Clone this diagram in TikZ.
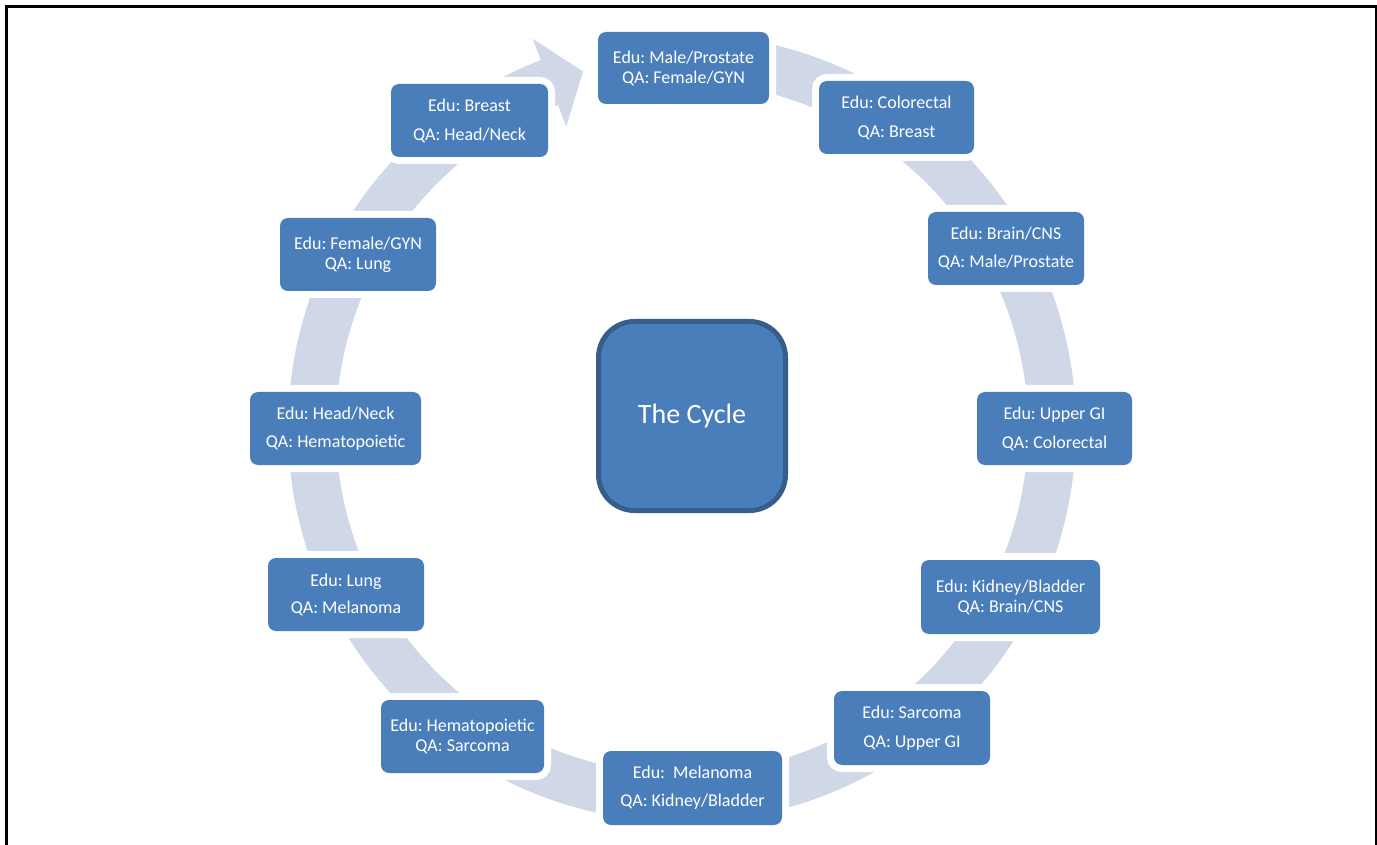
\documentclass[tikz,border=0pt]{standalone}
\usepackage{fontspec}
\setmainfont{Carlito}
\frenchspacing
\definecolor{boxblue}{HTML}{4A7EBB}
\definecolor{hubline}{HTML}{385D8A}
\definecolor{ringblue}{HTML}{D0D8E8}
\begin{document}
\begin{tikzpicture}[x = 0.5pt, y = 0.5pt,
	stagebox/.style = {fill = boxblue, rounded corners = 4pt, text = white, align = center,
		font = \fontsize{9}{10}\selectfont\frenchspacing, inner sep = 0pt,
		minimum width = 78pt, minimum height = 36.5pt,
		preaction = {draw = white, line width = 7pt}},
	hubbox/.style = {fill = boxblue, draw = hubline, line width = 2.5pt, rounded corners = 18pt,
		text = white, font = \fontsize{14}{16}\selectfont,
		minimum width = 93.5pt, minimum height = 94.5pt}]
	\useasboundingbox (0,0) rectangle (1377,-845);
	\draw [line width = 1.5pt] (6,-845) -- (6,-6.5) -- (1376,-6.5) -- (1376,-845);
	% the ring arrow
	\fill [ringblue, shift = {(682,-428)}] (88:394) arc [start angle = 88, end angle = -249, radius = 394]
		-- (111:417) -- (105.5:370) -- (111:323) -- (111:346)
		arc [start angle = -249, end angle = 88, radius = 346] -- cycle;
	\node [hubbox] (hub) at (692,-416) {The Cycle};
	\node [stagebox, minimum width = 85.5pt, minimum height = 36pt] (male) at (683.5,-68) {Edu: Male/Prostate\\QA: Female/GYN};
	\node [stagebox, minimum width = 77.5pt] (colorectal) at (896.5,-117.5) {Edu: Colorectal\\[4.5pt]QA: Breast};
	\node [stagebox] (brain) at (1006,-248.5) {Edu: Brain/CNS\\[4pt]QA: Male/Prostate};
	\node [stagebox, minimum width = 77.5pt] (uppergi) at (1054.5,-428.5) {Edu: Upper GI\\[4.5pt]QA: Colorectal};
	\node [stagebox, minimum width = 89.5pt, minimum height = 37pt] (kidney) at (1010.5,-597) {Edu: Kidney/Bladder\\QA: Brain/CNS};
	\node [stagebox, minimum height = 37pt] (sarcoma) at (912,-728) {Edu: Sarcoma\\[4.5pt]QA: Upper GI};
	\node [stagebox, minimum width = 89.5pt, minimum height = 37pt] (melanoma) at (692.5,-788) {Edu:~~Melanoma\\[4pt]QA: Kidney/Bladder};
	\node [stagebox, minimum width = 81.5pt] (hemato) at (462.5,-736.5) {Edu: Hematopoietic\\QA: Sarcoma};
	\node [stagebox] (lung) at (346,-594.5) {Edu: Lung\\[3.5pt]QA: Melanoma};
	\node [stagebox, minimum width = 85.5pt] (headneck) at (335.5,-428.5) {Edu: Head/Neck\\[4pt]QA: Hematopoietic};
	\node [stagebox] (female) at (358,-254.5) {Edu: Female/GYN\\QA: Lung};
	\node [stagebox, minimum width = 78.5pt] (breast) at (469.5,-120.5) {Edu: Breast\\[4.5pt]QA: Head/Neck};
\end{tikzpicture}
\end{document}
